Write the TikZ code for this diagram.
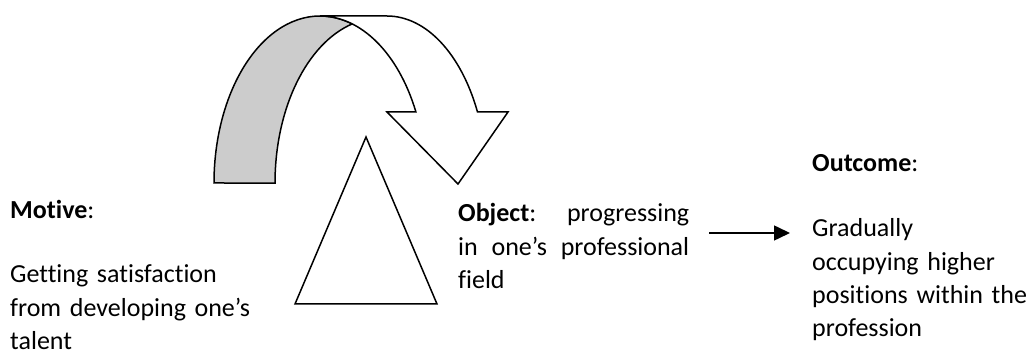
\documentclass[tikz,border=0pt]{standalone}
\usepackage{fontspec}
\setmainfont{Carlito}[Ligatures={TeX,CommonOff}]
\usetikzlibrary{arrows.meta}
\tikzset{
    txt/.style={font=\fontsize{26}{33.3}\selectfont, inner sep=0pt, anchor=base west, align=left},
    shape line/.style={line width=1.5pt, line join=miter}
}
\begin{document}
\begin{tikzpicture}[x=1pt, y=1pt]
            \useasboundingbox (0,0) rectangle (1027,361);

            \draw[shape line, fill=gray!40] (214,178) arc[start angle=180, end angle=72.3, x radius=106pt, y radius=167pt]
                arc[start angle=105.35, end angle=180, x radius=105pt, y radius=165pt] -- cycle;
            \draw[shape line, fill=white] (320,345) -- (387,345) arc[start angle=90, end angle=25.2, x radius=100pt, y radius=167pt]
                -- (508,249) -- (458,177) -- (387,249) -- (415.9,249.1)
                arc[start angle=25.2, end angle=90, x radius=106pt, y radius=167pt] -- cycle;
            \draw[shape line] (366,224) -- (437,57) -- (295,57) -- cycle;

            \node[txt] (motive) at (10,142) {\textbf{Motive}:};
            \node[txt, text width=250pt] (mbody) at (10,78) {Getting satisfaction\\from developing one's\\talent};
            \node[txt, text width=231pt] (object) at (458,139) {\textbf{Object}:\hfill progressing\\in\hfill one's\hfill professional\\field};
            \node[txt] (outcome) at (812,189) {\textbf{Outcome}:};
            \node[txt, text width=215pt] (obody) at (812,124) {Gradually\\occupying higher\\positions within the\\profession};

            \coordinate (from) at (709,128); \coordinate (to) at (790,128);
            \draw[line width=1.5pt, -{Triangle[length=16pt, width=15pt]}] (from) to (to);
        \end{tikzpicture}
\end{document}
